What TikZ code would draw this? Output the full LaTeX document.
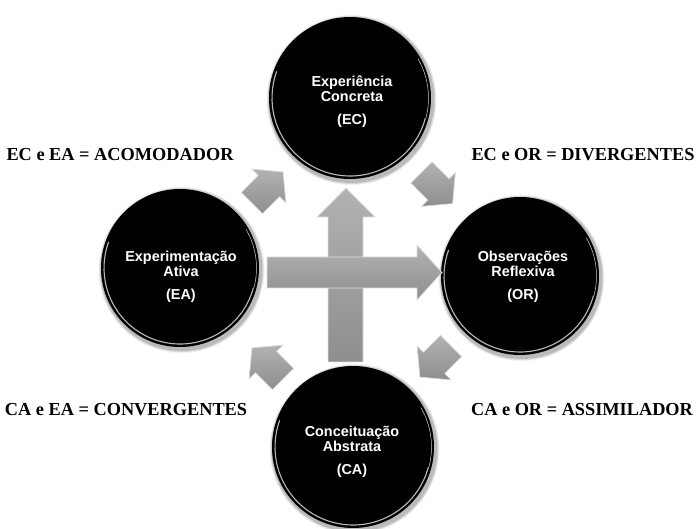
\documentclass[tikz,border=0pt]{standalone}
\usepackage{fontspec}
\setmainfont{Liberation Serif}
\newfontfamily\circfont{Liberation Sans}
\definecolor{arrowgray}{RGB}{160,160,160}
\definecolor{arrowlight}{RGB}{178,178,178}
\definecolor{arrowdark}{RGB}{142,142,142}

\tikzset{
  ball/.style={circle, fill=black, minimum size=#1, inner sep=0pt},
  balltext/.style={text=white, align=center,
    font=\circfont\bfseries\fontsize{14.4}{15}\selectfont},
  ruletext/.style={font=\bfseries\fontsize{18.3}{20}\selectfont, text=black},
  glint/.style={draw=gray!55, line width=1.1pt},
  bigarrow/.style={top color=arrowlight, bottom color=arrowdark,
    draw=gray!25, line width=0.8pt},
  pics/cornerarrow/.style={code={
    \path[top color=arrowlight, bottom color=arrowdark, draw=gray!30, line width=0.6pt]
      (-22,-15) -- (2,-15) -- (2,-24) -- (22,0) -- (2,24) -- (2,15) -- (-22,15) -- cycle;
  }},
}

% #1 name, #2 x, #3 y, #4 radius
\newcommand\glossyball[4]{%
  \foreach \k/\op in {4/0.06,3/0.10,2/0.14}{
    \fill[black, opacity=\op] (#2+1.5,#3+2) circle[radius=#4+\k];
  }
  \node[ball=2*#4pt] (#1) at (#2,#3) {};
  \draw[glint] (#1.center) ++(15:#4-3) arc[start angle=15, end angle=200, radius=#4-3];
  \draw[gray!35, line width=0.5pt] (#1.center) ++(330:#4-2.5) arc[start angle=330, end angle=375, radius=#4-2.5];
}

\begin{document}
\begin{tikzpicture}[x=1pt,y=-1pt]
\useasboundingbox (0,0) rectangle (697,529);

% the four learning stages
\glossyball{ec}{350}{98}{81}
\glossyball{ea}{180}{268}{79}
\glossyball{or}{520}{276}{79}
\glossyball{ca}{353}{447}{81}

\node[balltext] (ectext) at (352,102) {Experiência\\Concreta\\[8pt](EC)};
\node[balltext] (eatext) at (181,277) {Experimentação\\Ativa\\[8pt](EA)};
\node[balltext] (ortext) at (523,277) {Observações\\Reflexiva\\[8pt](OR)};
\node[balltext] (catext) at (352,452) {Conceituação\\Abstrata\\[8pt](CA)};

% central cross: vertical arrow up, horizontal arrow right
\path[bigarrow] (328,362) -- (328,217) -- (317,217) -- (346,188) -- (375,217)
  -- (363,217) -- (363,362) -- cycle;
\path[bigarrow] (267,257) -- (417,257) -- (417,245) -- (442,272.5) -- (417,300)
  -- (417,288) -- (267,288) -- cycle;

% cycle arrows between the stages
\pic[rotate=45]   at (267.5,187.5) {cornerarrow};
\pic[rotate=-45]  at (437,188)     {cornerarrow};
\pic[rotate=-135] at (435.5,361.5) {cornerarrow};
\pic[rotate=135]  at (267.5,363.5) {cornerarrow};

% learning styles
\node[ruletext] (acomodador)   at (120,155) {EC e EA = ACOMODADOR};
\node[ruletext] (divergentes)  at (583,155) {EC e OR = DIVERGENTES};
\node[ruletext] (convergentes) at (126,410) {CA e EA = CONVERGENTES};
\node[ruletext] (assimilador)  at (582,410) {CA e OR = ASSIMILADOR};
\end{tikzpicture}
\end{document}
